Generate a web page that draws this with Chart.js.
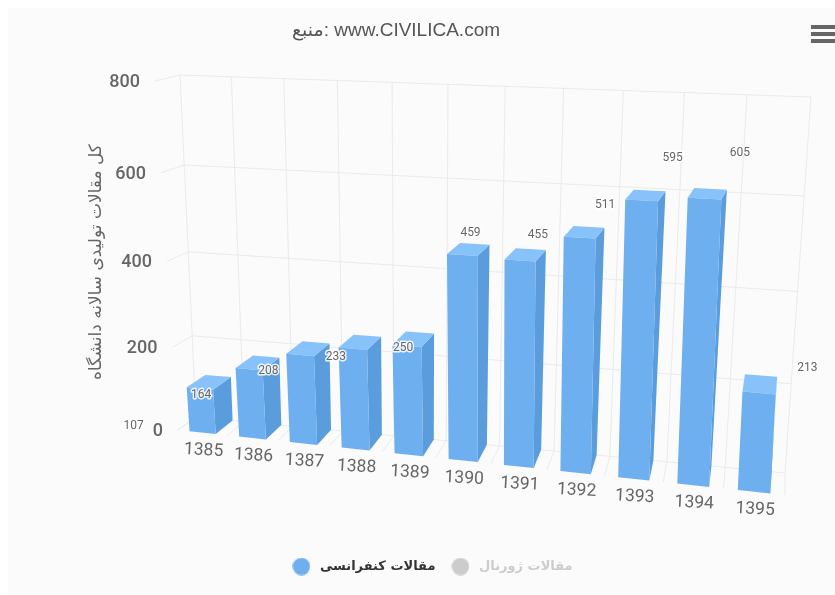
<!DOCTYPE html>
<html>
<head>
<meta charset="utf-8">
<script src="https://cdn.jsdelivr.net/npm/chart.js@4"></script>
<style>
html, body { margin: 0; padding: 0; background: #fff; overflow: hidden; }
#box { width: 835px; height: 595px; overflow: hidden; }
</style>
</head>
<body>
<div id="box"><canvas id="grafico" width="841" height="595"></canvas></div>
<script>
const anos = ['1385', '1386', '1387', '1388', '1389', '1390', '1391', '1392', '1393', '1394', '1395'];
const conferencias = [107, 164, 208, 233, 250, 459, 455, 511, 595, 605, 213];
const serieConferencia = 'مقالات کنفرانسی';
const serieJornal = 'مقالات ژورنال';
const tituloGrafico = 'منبع: www.CIVILICA.com';
const tituloEixoY = 'کل مقالات تولیدی سالانه دانشگاه';

// corners of the tilted box on screen: front/back, left/right, bottom/top
const cantos = {
    flb: [178, 430], flt: [155, 81], frb: [785, 495], frt: [807, 103],
    blb: [196, 417], blt: [180, 75], brb: [785, 473], brt: [811, 97]
};
const perspU = 0.886;
const perspV = 0.934;

function mix(a, b, t) {
    return [a[0] + (b[0] - a[0]) * t, a[1] + (b[1] - a[1]) * t];
}

// u: along categories, v: up the value axis, w: depth (all 0..1)
function projetar(u, v, w) {
    const pu = perspU * u / (1 + (perspU - 1) * u);
    const pv = perspV * v / (1 + (perspV - 1) * v);
    const frente = mix(mix(cantos.flb, cantos.frb, pu), mix(cantos.flt, cantos.frt, pu), pv);
    const fundo = mix(mix(cantos.blb, cantos.brb, pu), mix(cantos.blt, cantos.brt, pu), pv);
    return mix(frente, fundo, w);
}

function linha(ctx, a, b) {
    ctx.beginPath();
    ctx.moveTo(a[0], a[1]);
    ctx.lineTo(b[0], b[1]);
    ctx.stroke();
}

function face(ctx, pontos, cor) {
    ctx.fillStyle = cor;
    ctx.beginPath();
    pontos.forEach((p, i) => i ? ctx.lineTo(p[0], p[1]) : ctx.moveTo(p[0], p[1]));
    ctx.closePath();
    ctx.fill();
}

// legend marker, a canvas so it stays round inside the wider legend box
function bolinha(cor) {
    const c = document.createElement('canvas');
    c.width = 18;
    c.height = 18;
    const g = c.getContext('2d');
    g.fillStyle = cor;
    g.arc(9, 9, 8.7, 0, Math.PI * 2);
    g.fill();
    return c;
}

const caixa3d = {
    id: 'caixa3d',
    beforeDraw(chart) {
        const ctx = chart.ctx;
        const area = chart.chartArea;
        const x = chart.scales.x;
        const y = chart.scales.y;
        const uDe = px => (px - area.left) / (area.right - area.left);
        const vDe = py => (area.bottom - py) / (area.bottom - area.top);

        ctx.save();
        ctx.fillStyle = '#fbfbfb';
        ctx.fillRect(8, 8, 833, 587);

        ctx.strokeStyle = '#ebebeb';
        ctx.lineWidth = 1;
        y.ticks.forEach(t => {
            const v = vDe(y.getPixelForValue(t.value));
            linha(ctx, projetar(0, v, 0), projetar(0, v, 1));
            linha(ctx, projetar(0, v, 1), projetar(1, v, 1));
        });
        const banda = (x.getPixelForTick(1) - x.getPixelForTick(0));
        for (let i = 0; i <= anos.length; i++) {
            const u = uDe(x.getPixelForTick(0) - banda / 2 + banda * i);
            linha(ctx, projetar(u, 0, 1), projetar(u, 1, 1));
            linha(ctx, projetar(u, 0, 0), projetar(u, 0, 1));
        }

        // title and menu icon
        ctx.fillStyle = '#555';
        ctx.font = '19px "Liberation Sans", "DejaVu Sans"';
        ctx.textAlign = 'center';
        ctx.textBaseline = 'middle';
        ctx.fillText(tituloGrafico, 396, 31);
        ctx.fillStyle = '#666';
        ctx.fillRect(811, 25, 24, 4);
        ctx.fillRect(811, 32, 24, 4);
        ctx.fillRect(811, 39, 24, 4);
        ctx.restore();
    },
    afterDatasetsDraw(chart) {
        const ctx = chart.ctx;
        const area = chart.chartArea;
        const x = chart.scales.x;
        const y = chart.scales.y;
        const uDe = px => (px - area.left) / (area.right - area.left);
        const vDe = py => (area.bottom - py) / (area.bottom - area.top);
        const barras = chart.getDatasetMeta(0).data;

        ctx.save();
        barras.forEach(b => {
            const u0 = uDe(b.x - b.width / 2);
            const u1 = uDe(b.x + b.width / 2);
            const v = vDe(b.y);
            face(ctx, [projetar(u1, 0, 0), projetar(u1, 0, 1), projetar(u1, v, 1), projetar(u1, v, 0)], '#5b9cdd');
            face(ctx, [projetar(u0, v, 0), projetar(u0, v, 1), projetar(u1, v, 1), projetar(u1, v, 0)], '#88c2fb');
            face(ctx, [projetar(u0, 0, 0), projetar(u1, 0, 0), projetar(u1, v, 0), projetar(u0, v, 0)], '#6dafef');
        });

        // value labels stay at the flat position of each bar, as in the original
        ctx.font = '12px Roboto';
        ctx.textAlign = 'center';
        ctx.textBaseline = 'middle';
        ctx.lineJoin = 'round';
        barras.forEach((b, i) => {
            ctx.strokeStyle = 'rgba(255,255,255,0.85)';
            ctx.lineWidth = 3;
            ctx.strokeText(conferencias[i], b.x, b.y - 8);
            ctx.fillStyle = '#666';
            ctx.fillText(conferencias[i], b.x, b.y - 8);
        });

        // axis tick labels
        ctx.fillStyle = '#666';
        ctx.font = '500 18px Roboto';
        ctx.textAlign = 'right';
        y.ticks.forEach(t => {
            const p = projetar(0, vDe(y.getPixelForValue(t.value)), 0);
            ctx.fillText(t.label, p[0] - 15, p[1] + 1.5);
        });
        ctx.font = '17.5px Roboto';
        ctx.textAlign = 'center';
        x.ticks.forEach((t, i) => {
            const p = projetar(uDe(x.getPixelForTick(i)), 0, 0);
            ctx.save();
            ctx.translate(p[0] + 1, p[1] + 18);
            ctx.rotate(0.05);
            ctx.fillText(t.label, 0, 0);
            ctx.restore();
        });

        ctx.font = '17px "DejaVu Sans"';
        ctx.save();
        ctx.translate(97, 262);
        ctx.rotate(-Math.PI / 2);
        ctx.fillText(tituloEixoY, 0, 0);
        ctx.restore();
        ctx.restore();
    }
};

new Chart(document.getElementById('grafico').getContext('2d'), {
    type: 'bar',
    data: {
        labels: anos,
        datasets: [{
            label: serieConferencia,
            data: conferencias,
            backgroundColor: 'rgba(0,0,0,0)',
            categoryPercentage: 1,
            barPercentage: 0.53
        }]
    },
    options: {
        responsive: false,
        animation: false,
        layout: { padding: { left: 21, right: 0, top: 54, bottom: 12 } },
        scales: {
            x: {
                grid: { display: false },
                border: { display: false },
                ticks: { display: false },
                afterFit(scale) { scale.height = 54; }
            },
            y: {
                min: 0,
                max: 800,
                grid: { display: false },
                border: { display: false },
                ticks: { display: false, stepSize: 200 },
                afterFit(scale) { scale.width = 79; }
            }
        },
        plugins: {
            tooltip: { enabled: false },
            title: { display: false },
            legend: {
                position: 'bottom',
                onClick: null,
                labels: {
                    usePointStyle: true,
                    boxHeight: 12,
                    pointStyleWidth: 24,
                    padding: 13,
                    font: { size: 13, weight: 'bold', family: '"DejaVu Sans"' },
                    generateLabels() {
                        return [
                            { text: serieConferencia, fontColor: '#333', fillStyle: '#6dafef', strokeStyle: '#6dafef', pointStyle: bolinha('#6dafef'), lineWidth: 0 },
                            { text: serieJornal, fontColor: '#cccccc', fillStyle: '#cccccc', strokeStyle: '#cccccc', pointStyle: bolinha('#cccccc'), lineWidth: 0 }
                        ];
                    }
                }
            }
        }
    },
    plugins: [caixa3d]
});
</script>
</body>
</html>
